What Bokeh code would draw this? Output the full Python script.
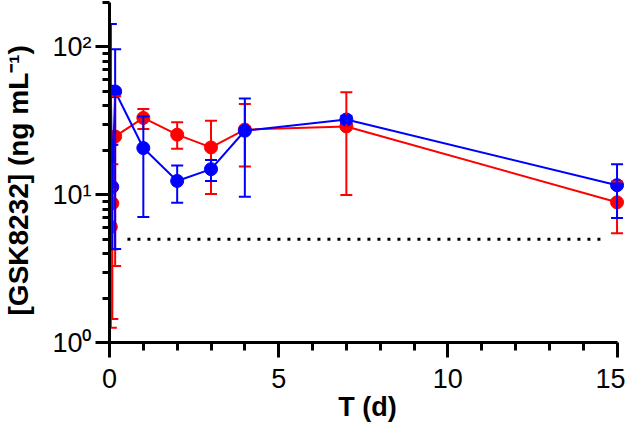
from bokeh.plotting import figure
from bokeh.models import ColumnDataSource, Whisker, FixedTicker, Range1d, TeeHead
from bokeh.embed import file_html
from bokeh.resources import INLINE

# ---- data ----
t = [0.04, 0.083, 0.167, 1, 2, 3, 4, 7, 15]

red_val = [6.06, 8.74, 24.8, 33.1, 25.5, 20.9, 27.6, 29.0, 8.89]
red_lo = [1.26, 1.44, 3.29, 27.9, 20.5, 10.1, 15.5, 9.95, 5.49]
red_hi = [10.9, 16.1, 46.4, 38.1, 30.9, 31.7, 41.2, 49.4, 12.3]

blue_val = [50.0, 11.3, 50.0, 20.7, 12.4, 14.9, 27.1, 32.3, 11.6]
blue_lo = [21.8, 4.27, 4.3, 7.08, 8.83, 12.4, 9.69, 30.5, 6.95]
blue_hi = [143.0, 21.8, 96.5, 33.9, 15.8, 17.2, 44.8, 34.2, 16.1]

lloq = 5.0
lloq_x = [0.53, 14.68]

x_major = [0, 5, 10, 15]
x_minor = [1, 2, 3, 4, 6, 7, 8, 9, 11, 12, 13, 14]
y_major = [1, 10, 100]
y_minor = [2, 3, 4, 5, 6, 7, 8, 9, 20, 30, 40, 50, 60, 70, 80, 90, 200]
y_labels = {1: "10\u2070", 10: "10\u00b9", 100: "10\u00b2"}

RED = "#ff0000"
BLUE = "#0000ff"
FONT = "Liberation Sans"

p = figure(frame_width=516, frame_height=340, output_backend="svg",
           toolbar_location=None,
           x_range=Range1d(0, 15.25), y_range=Range1d(1, 200),
           y_axis_type="log",
           min_border_left=107, min_border_right=0, min_border_top=2,
           min_border_bottom=86)
p.outline_line_color = None
p.xgrid.visible = False
p.ygrid.visible = False
p.background_fill_color = "white"
p.border_fill_color = "white"

# dotted LLOQ line
p.line(x=lloq_x, y=[lloq, lloq], line_color="black", line_width=3,
       line_dash="3 7")


def series(vals, lo, hi, color):
    src = ColumnDataSource(dict(t=t, v=vals, lo=lo, hi=hi))
    w = Whisker(base="t", lower="lo", upper="hi", source=src,
                dimension="height", line_color=color, line_width=2,
                upper_head=TeeHead(size=12, line_color=color, line_width=2),
                lower_head=TeeHead(size=12, line_color=color, line_width=2),
                level="glyph")
    p.add_layout(w)
    p.line("t", "v", source=src, line_color=color, line_width=2)
    p.scatter("t", "v", source=src, size=13, fill_color=color,
              line_color=color)


series(red_val, red_lo, red_hi, RED)
series(blue_val, blue_lo, blue_hi, BLUE)

# x axis
xa = p.xaxis[0]
xa.ticker = FixedTicker(ticks=x_major, minor_ticks=x_minor)
xa.bounds = (0, 15)
xa.axis_label = "T (d)"
xa.axis_label_text_font = FONT
xa.axis_label_text_font_style = "bold"
xa.axis_label_text_font_size = "27px"
xa.axis_label_standoff = 1
xa.major_label_text_font = FONT
xa.major_label_text_font_size = "27px"
xa.major_label_standoff = 11
xa.major_tick_out = 15
xa.minor_tick_out = 8

# y axis
ya = p.yaxis[0]
ya.ticker = FixedTicker(ticks=y_major, minor_ticks=y_minor)
ya.major_label_overrides = y_labels
ya.axis_label = "[GSK8232] (ng mL\u207b\u00b9)\u00a0\u00a0"
ya.axis_label_text_font = FONT
ya.axis_label_text_font_style = "bold"
ya.axis_label_text_font_size = "28px"
ya.axis_label_standoff = 15
ya.major_label_text_font = FONT
ya.major_label_text_font_size = "27px"
ya.major_label_standoff = 4
ya.major_tick_out = 14
ya.minor_tick_out = 7

for ax in (xa, ya):
    ax.axis_line_width = 3
    ax.major_tick_line_width = 3
    ax.minor_tick_line_width = 3
    ax.major_tick_in = 0
    ax.minor_tick_in = 0
    ax.axis_line_color = "black"
    ax.major_tick_line_color = "black"
    ax.minor_tick_line_color = "black"
    ax.major_label_text_color = "black"
    ax.axis_label_text_color = "black"

open("out.html", "w").write(file_html(p, INLINE))
